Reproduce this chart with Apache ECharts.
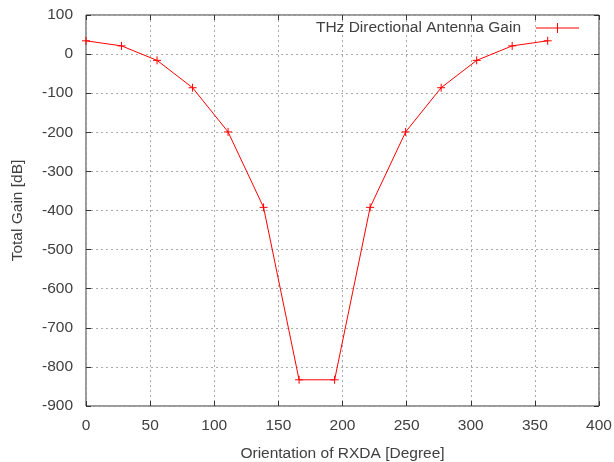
<!DOCTYPE html>
<html>
<head>
<meta charset="utf-8">
<script src="https://cdn.jsdelivr.net/npm/echarts@6/dist/echarts.min.js"></script>
<style>
  html, body { margin: 0; padding: 0; background: #fff; }
  #chart { width: 614px; height: 462px; }
</style>
</head>
<body>
<div id="chart"></div>
<script>
// orientation of the RX directional antenna (degrees) and the total gain
const orientation = [0, 27.69, 55.38, 83.08, 110.77, 138.46, 166.15, 193.85, 221.54, 249.23, 276.92, 304.62, 332.31, 360]
const gain = [34, 21, -16, -86, -199, -392, -833, -833, -392, -199, -86, -16, 21, 34]
const seriesName = 'THz Directional Antenna Gain'

const textColor = '#404040'
const font = 'Liberation Sans, Arial, sans-serif'
const fontSize = 15.5
const red = '#ff0000'
const plus = 'path://M0,-1L0,1M-1,0L1,0'

const chart = echarts.init(document.getElementById('chart'))

const gridLine = { show: true, lineStyle: { color: '#aaaaaa', type: [2, 3], width: 1 } }
const tick = { show: true, inside: true, length: 5, lineStyle: { color: '#333' } }

const option = {
  animation: false,
  textStyle: { fontFamily: font },
  grid: {
    left: 86, right: 15, top: 15, bottom: 56,
    outerBoundsMode: 'none',
    show: true, borderColor: '#333', borderWidth: 1
  },
  legend: {
    right: 30, top: 15,
    align: 'right',
    itemWidth: 43, itemHeight: 10,
    textStyle: { color: textColor, fontSize: fontSize, fontFamily: font, padding: [0, 10, 0, 0] },
    data: [{
      name: seriesName,
      // a short line with a "+" in the middle, drawn as filled bars
      icon: 'path://M0,4.5L43,4.5L43,5.5L0,5.5ZM21,0L22,0L22,10L21,10Z',
      itemStyle: { color: red, borderWidth: 0 }
    }]
  },
  xAxis: [
    {
      type: 'value', min: 0, max: 400, interval: 50,
      name: 'Orientation of RXDA [Degree]', nameLocation: 'middle', nameGap: 40,
      nameTextStyle: { color: textColor, fontSize: fontSize },
      axisLine: { show: false, onZero: false },
      axisTick: tick,
      axisLabel: { color: textColor, fontSize: fontSize, margin: 12 },
      splitLine: gridLine
    },
    {
      type: 'value', min: 0, max: 400, interval: 50, position: 'top',
      axisLine: { show: false, onZero: false },
      axisTick: tick,
      axisLabel: { show: false },
      splitLine: { show: false }
    }
  ],
  yAxis: [
    {
      type: 'value', min: -900, max: 100, interval: 100,
      name: 'Total Gain [dB]', nameLocation: 'middle', nameGap: 60, nameRotate: 90,
      nameTextStyle: { color: textColor, fontSize: fontSize },
      axisLine: { show: false, onZero: false },
      axisTick: tick,
      axisLabel: { color: textColor, fontSize: fontSize, margin: 13 },
      splitLine: gridLine
    },
    {
      type: 'value', min: -900, max: 100, interval: 100, position: 'right',
      axisLine: { show: false, onZero: false },
      axisTick: tick,
      axisLabel: { show: false },
      splitLine: { show: false }
    }
  ],
  series: [
    {
      name: seriesName,
      type: 'line',
      data: orientation.map((x, i) => [x, gain[i]]),
      lineStyle: { color: red, width: 1 },
      symbol: plus,
      symbolSize: 8,
      showAllSymbol: true,
      itemStyle: { color: red, borderColor: red, borderWidth: 1 }
    }
  ]
}

chart.setOption(option)
</script>
</body>
</html>
